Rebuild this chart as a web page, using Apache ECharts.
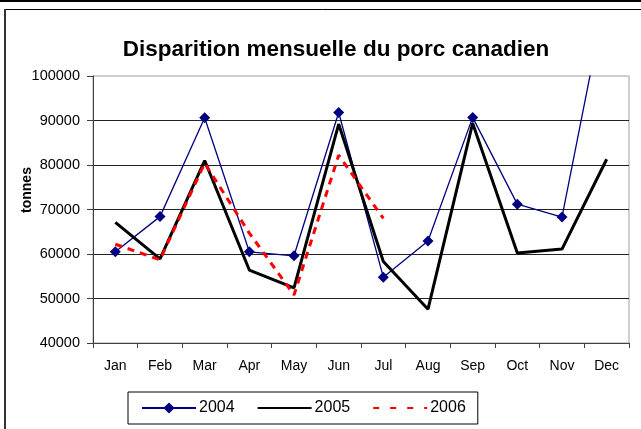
<!DOCTYPE html>
<html>
<head>
<meta charset="utf-8">
<script src="https://cdn.jsdelivr.net/npm/echarts@6/dist/echarts.min.js"></script>
<style>
html,body{margin:0;padding:0;background:#fff;}
#main{width:641px;height:429px;}
</style>
</head>
<body>
<div id="main"></div>
<script>
// mois
var months=["Jan","Feb","Mar","Apr","May","Jun","Jul","Aug","Sep","Oct","Nov","Dec"];
// disparition mensuelle (tonnes)
var y2004=[60500,68400,90600,60500,59600,91800,54800,62900,90700,71200,68300,119000];
var y2005=[67100,58900,81000,56400,52400,89200,58300,47600,89400,60200,61100,81300];
var y2006=[62200,58700,80400,64700,50800,82200,68000,null,null,null,null,null];
var yMin=40000,yMax=100000,yStep=10000;

var myChart=echarts.init(document.getElementById("main"));
var option={
	animation:false,
	title:{
		text:"Disparition mensuelle du porc canadien",
		left:331,
		top:33,
		textAlign:"center",
		textStyle:{
			fontFamily:"Liberation Sans, Arial",
			fontWeight:"bold",
			fontSize:22.5,
			color:"#000"
		}
	},
	graphic:[
		//cadre
		{type:"rect",shape:{x:0,y:0,width:641,height:2},style:{fill:"#000"}},
		{type:"line",shape:{x1:4,y1:9.5,x2:641,y2:9.5},style:{stroke:"#000",lineWidth:1}},
		{type:"line",shape:{x1:5,y1:9,x2:5,y2:429},style:{stroke:"#333",lineWidth:2}},
		{
			type:"text",
			x:27,y:190,
			rotation:Math.PI/2,
			style:{
				text:"tonnes",
				fill:"#000",
				font:"bold 14px 'Liberation Sans', Arial",
				textAlign:"center",
				textVerticalAlign:"middle"
			}
		}
	],
	grid:{
		left:93,
		right:12,
		top:76,
		bottom:86,
		show:true,
		borderColor:"#a0a0a0",
		borderWidth:1
	},
	legend:{
		left:128,
		top:392,
		padding:[8,12,8,13],
		borderColor:"#000",
		borderWidth:1,
		itemWidth:54,
		itemHeight:14,
		itemGap:22,
		textStyle:{
			fontFamily:"Liberation Sans, Arial",
			fontSize:16,
			color:"#000",
			padding:[0,0,0,-2]
		},
		data:[
			{name:"2004"},
			{name:"2005",itemStyle:{opacity:0}},
			{name:"2006",itemStyle:{opacity:0},lineStyle:{type:[6,11]}}
		]
	},
	xAxis:{
		type:"category",
		data:months,
		boundaryGap:true,
		axisLine:{lineStyle:{color:"#404040",width:1}},
		axisTick:{show:true,interval:0,length:5,lineStyle:{color:"#404040"}},
		axisLabel:{
			interval:0,
			margin:16,
			color:"#000",
			fontFamily:"Liberation Sans, Arial",
			fontSize:14
		},
		splitLine:{show:false}
	},
	yAxis:{
		type:"value",
		min:yMin,
		max:yMax,
		interval:yStep,
		axisLine:{show:true,lineStyle:{color:"#404040",width:1}},
		axisTick:{show:true,length:6,lineStyle:{color:"#404040"}},
		axisLabel:{
			margin:13,
			color:"#000",
			fontFamily:"Liberation Sans, Arial",
			fontSize:14.5,
			formatter:function(v){return String(v);}
		},
		splitLine:{show:true,showMaxLine:false,lineStyle:{color:"#222",width:1}}
	},
	series:[
		{
			name:"2004",
			type:"line",
			data:y2004,
			clip:true,
			symbol:"diamond",
			symbolSize:11,
			itemStyle:{color:"#000080"},
			lineStyle:{color:"#000080",width:1.3}
		},
		{
			name:"2005",
			type:"line",
			data:y2005,
			clip:true,
			symbol:"none",
			itemStyle:{color:"#000"},
			lineStyle:{color:"#000",width:3}
		},
		{
			name:"2006",
			type:"line",
			data:y2006,
			clip:true,
			symbol:"none",
			itemStyle:{color:"#ff0000"},
			lineStyle:{color:"#ff0000",width:3,type:[7,6]}
		}
	]
};
myChart.setOption(option);
</script>
</body>
</html>
